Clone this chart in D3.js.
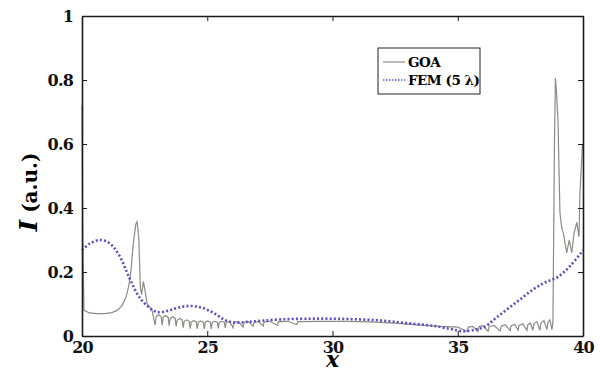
<!DOCTYPE html>
<html>
<head>
<meta charset="utf-8">
<script src="https://cdn.jsdelivr.net/npm/d3@7"></script>
<style>
  body { margin: 0; background: #fff; }
</style>
</head>
<body>
<svg id="chart" width="600" height="374"></svg>
<script>
// x ticks and y ticks
var xTicks = [20, 25, 30, 35, 40];
var yTicks = [0, 0.2, 0.4, 0.6, 0.8, 1];
var yTickLabels = ["0", "0.2", "0.4", "0.6", "0.8", "1"];

// GOA curve
var goaX = [20.0, 20.03, 20.08, 20.3, 20.6, 20.9, 21.2, 21.4, 21.6, 21.75, 21.85, 21.95, 22.05, 22.15, 22.2, 22.27, 22.33, 22.38, 22.45, 22.52, 22.6, 22.7, 22.78, 22.85,
  22.92, 22.96, 23.06, 23.16, 23.2, 23.24, 23.34, 23.44, 23.48, 23.52, 23.62, 23.72, 23.76, 23.8, 23.9, 24.0, 24.04, 24.08, 24.18, 24.28,
  24.32, 24.36, 24.46, 24.56, 24.6, 24.64, 24.74, 24.84, 24.88, 24.92, 25.02, 25.12, 25.16, 25.2, 25.3, 25.4, 25.44, 25.48, 25.58, 25.68, 25.72, 25.76, 25.9,
  26.03, 26.07, 26.25, 26.43, 26.47, 26.65, 26.83, 26.87, 27.05, 27.23, 27.27, 27.5, 27.8, 27.84, 28.2, 28.57, 28.61,
  29.5, 30.5, 31.5, 32.5, 33.5, 34.3, 35.0, 35.37, 35.42, 35.6, 35.81, 35.86, 36.0, 36.21, 36.26, 36.45, 36.69, 36.74, 36.9, 37.09, 37.13, 37.27, 37.41, 37.45, 37.6, 37.76, 37.8, 37.9, 38.0, 38.04, 38.16, 38.28, 38.32, 38.44, 38.56, 38.6, 38.68, 38.76, 38.8, 38.86,
  38.9, 38.95, 39.0, 39.08, 39.15, 39.22, 39.35, 39.45, 39.55, 39.64, 39.75, 39.84, 39.88, 39.98, 40.0];
var goaY = [0.72, 0.30, 0.08, 0.072, 0.07, 0.07, 0.073, 0.08, 0.095, 0.12, 0.15, 0.2, 0.29, 0.35, 0.357, 0.3, 0.15, 0.13, 0.17, 0.14, 0.1, 0.09, 0.085, 0.06,
  0.034, 0.06, 0.066, 0.06, 0.034, 0.058, 0.064, 0.058, 0.032, 0.055, 0.06, 0.055, 0.03, 0.05, 0.055, 0.05, 0.026, 0.046, 0.05, 0.046,
  0.023, 0.044, 0.048, 0.044, 0.022, 0.043, 0.047, 0.043, 0.022, 0.043, 0.047, 0.043, 0.022, 0.043, 0.046, 0.043, 0.024, 0.043, 0.046, 0.043, 0.025, 0.043, 0.045,
  0.026, 0.043, 0.045, 0.028, 0.043, 0.045, 0.03, 0.043, 0.045, 0.031, 0.044, 0.046, 0.033, 0.045, 0.046, 0.036, 0.045,
  0.046, 0.046, 0.044, 0.04, 0.034, 0.03, 0.028, 0.014, 0.028, 0.03, 0.014, 0.03, 0.032, 0.015, 0.03, 0.033, 0.016, 0.031, 0.035, 0.017, 0.032, 0.036, 0.018, 0.034, 0.038, 0.018, 0.036, 0.04, 0.018, 0.038, 0.045, 0.018, 0.04, 0.048, 0.02, 0.042, 0.05, 0.02, 0.045,
  0.6, 0.806, 0.75, 0.675, 0.384, 0.34, 0.32, 0.26, 0.30, 0.26, 0.32, 0.355, 0.31, 0.45, 0.6];

// FEM (5 lambda) curve
var femX = [20, 20.3, 20.7, 21.1, 21.5, 21.9, 22.3, 22.7, 23.0, 23.4, 23.8, 24.3, 24.8, 25.3, 25.7, 26.1, 26.6, 27.2, 28, 29, 30, 31, 32, 33, 34, 34.7, 35.2, 35.7, 36.1, 36.5, 37, 37.5, 38, 38.5, 39, 39.5, 40];
var femY = [0.268, 0.288, 0.3, 0.29, 0.25, 0.18, 0.12, 0.088, 0.075, 0.078, 0.088, 0.094, 0.088, 0.07, 0.05, 0.042, 0.044, 0.048, 0.052, 0.054, 0.054, 0.052, 0.048, 0.04, 0.032, 0.022, 0.015, 0.02, 0.03, 0.055, 0.085, 0.115, 0.145, 0.168, 0.185, 0.22, 0.268];

var seriesNames = ["GOA", "FEM (5 \u03bb)"];
var serif = "DejaVu Serif";

var margin = { top: 16, right: 17, bottom: 38, left: 82 };
var width = 600 - margin.left - margin.right;
var height = 374 - margin.top - margin.bottom;

var svg = d3.select("#chart");
var g = svg.append("g")
    .attr("transform", "translate(" + margin.left + "," + margin.top + ")");

var x = d3.scaleLinear().domain([20, 40]).range([0, width]);
var y = d3.scaleLinear().domain([0, 1]).range([height, 0]);

var goa = goaX.map(function(d, i) { return [d, goaY[i]]; });
var fem = femX.map(function(d, i) { return [d, femY[i]]; });

var line = d3.line()
    .x(function(d) { return x(d[0]); })
    .y(function(d) { return y(d[1]); });

var smooth = d3.line()
    .curve(d3.curveCatmullRom)
    .x(function(d) { return x(d[0]); })
    .y(function(d) { return y(d[1]); });

g.append("path")
    .datum(goa)
    .attr("fill", "none")
    .attr("stroke", "#8b8c85")
    .attr("stroke-width", 1.2)
    .attr("d", line);

g.append("path")
    .datum(fem)
    .attr("fill", "none")
    .attr("stroke", "#5a4ec4")
    .attr("stroke-width", 2.6)
    .attr("stroke-dasharray", "2 2.2")
    .attr("d", smooth);

// axes, ticks inward
g.append("g")
    .attr("transform", "translate(0," + height + ")")
    .call(d3.axisBottom(x).tickValues(xTicks).tickSizeInner(-5).tickSizeOuter(0).tickPadding(6));
g.append("g")
    .call(d3.axisLeft(y).tickValues(yTicks).tickFormat(function(d, i) { return yTickLabels[i]; })
        .tickSizeInner(-5).tickSizeOuter(0).tickPadding(9));
g.append("g")
    .call(d3.axisTop(x).tickValues(xTicks).tickSizeInner(-5).tickSizeOuter(0).tickFormat(""));
g.append("g")
    .attr("transform", "translate(" + width + ",0)")
    .call(d3.axisRight(y).tickValues(yTicks).tickSizeInner(-5).tickSizeOuter(0).tickFormat(""));

svg.selectAll("g").attr("font-family", serif).attr("font-size", null);
svg.selectAll(".domain").attr("stroke", "#1a1a1a").attr("stroke-width", 1.6);
svg.selectAll(".tick line").attr("stroke", "#1a1a1a");
svg.selectAll(".tick text")
    .attr("fill", "#111")
    .attr("font-family", serif)
    .attr("font-size", 16)
    .attr("font-weight", "bold")
    .attr("letter-spacing", -0.8);

// axis titles
svg.append("text")
    .attr("x", margin.left + width / 2)
    .attr("y", 367)
    .attr("text-anchor", "middle")
    .attr("font-family", serif)
    .attr("font-size", 22)
    .attr("font-style", "italic")
    .attr("font-weight", "bold")
    .text("x");

var yt = svg.append("text")
    .attr("transform", "translate(37," + (margin.top + height / 2 + 16) + ") rotate(-90)")
    .attr("text-anchor", "middle")
    .attr("font-family", serif)
    .attr("font-size", 20)
    .attr("font-weight", "bold");
yt.append("tspan").attr("font-style", "italic").attr("font-size", 25).text("I");
yt.append("tspan").text(" (a.u.)");

// legend
var legend = svg.append("g").attr("transform", "translate(378,48)");
legend.append("rect")
    .attr("width", 102).attr("height", 46)
    .attr("fill", "#fff").attr("stroke", "#222").attr("stroke-width", 1);
legend.append("line")
    .attr("x1", 5).attr("x2", 27).attr("y1", 14).attr("y2", 14)
    .attr("stroke", "#8b8c85").attr("stroke-width", 1.2);
legend.append("line")
    .attr("x1", 5).attr("x2", 27).attr("y1", 32).attr("y2", 32)
    .attr("stroke", "#5a4ec4").attr("stroke-width", 1.6).attr("stroke-dasharray", "1.5 1.5");
legend.selectAll("text.lab")
    .data(seriesNames)
    .enter()
    .append("text")
    .attr("class", "lab")
    .attr("x", 30)
    .attr("y", function(d, i) { return 19 + i * 18; })
    .attr("font-family", serif)
    .attr("font-size", 13.5)
    .attr("font-weight", "bold")
    .attr("letter-spacing", -0.5)
    .text(function(d) { return d; });
</script>
</body>
</html>
